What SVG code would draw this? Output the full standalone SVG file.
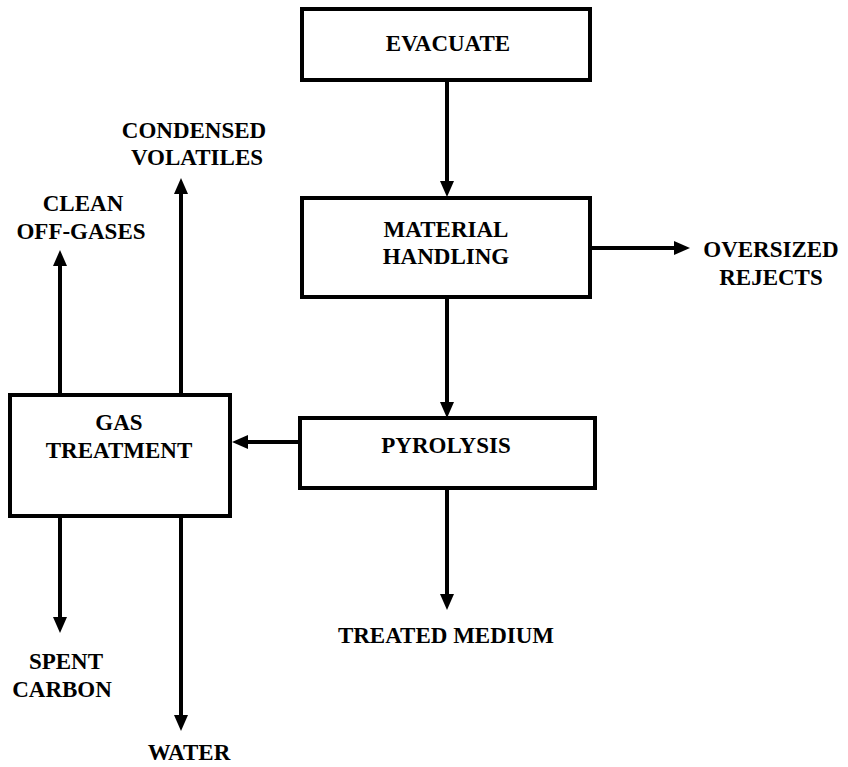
<svg xmlns="http://www.w3.org/2000/svg" width="848" height="767" viewBox="0 0 848 767">
  <style>
    .box { fill: #fff; stroke: #000; stroke-width: 4; }
    .flow { stroke: #000; stroke-width: 4; fill: none; marker-end: url(#head); }
  </style>
  <defs>
    <!-- filled arrowhead; tip sits 8px beyond the line end -->
    <marker id="head" markerUnits="userSpaceOnUse" markerWidth="18" markerHeight="16" refX="8" refY="7" orient="auto">
      <path d="M0,0 L16,7 L0,14 Z" fill="#000"/>
    </marker>
  </defs>

  <rect width="848" height="767" fill="#fff"/>

  <g id="connectors">
    <line class="flow" x1="447" y1="80" x2="447" y2="189"/>
    <line class="flow" x1="590" y1="248" x2="682" y2="248"/>
    <line class="flow" x1="447" y1="297" x2="447" y2="410"/>
    <line class="flow" x1="300" y1="442" x2="240" y2="442"/>
    <line class="flow" x1="447" y1="488" x2="447" y2="602"/>
    <line class="flow" x1="60" y1="395" x2="60" y2="258"/>
    <line class="flow" x1="181" y1="395" x2="181" y2="186"/>
    <line class="flow" x1="60" y1="517" x2="60" y2="625"/>
    <line class="flow" x1="181" y1="517" x2="181" y2="723"/>
  </g>

  <g font-family="Liberation Serif, serif" font-weight="bold" font-size="23" text-anchor="middle" fill="#000">
    <g id="evacuate">
      <rect class="box" x="302" y="9" width="288" height="71"/>
      <text x="448" y="51">EVACUATE</text>
    </g>

    <g id="material-handling">
      <rect class="box" x="302" y="198" width="288" height="99"/>
      <text x="446" y="237">MATERIAL</text>
      <text x="446" y="264">HANDLING</text>
    </g>

    <g id="pyrolysis">
      <rect class="box" x="300" y="418" width="295" height="70"/>
      <text x="446" y="453">PYROLYSIS</text>
    </g>

    <g id="gas-treatment">
      <rect class="box" x="10" y="395" width="220" height="121"/>
      <text x="119" y="430">GAS</text>
      <text x="119" y="458">TREATMENT</text>
    </g>

    <g id="oversized-rejects">
      <text x="771" y="257">OVERSIZED</text>
      <text x="771" y="285">REJECTS</text>
    </g>

    <g id="treated-medium">
      <text x="446" y="643">TREATED MEDIUM</text>
    </g>

    <g id="clean-off-gases">
      <text x="83" y="211">CLEAN</text>
      <text x="81" y="239">OFF-GASES</text>
    </g>

    <g id="condensed-volatiles">
      <text x="194" y="138">CONDENSED</text>
      <text x="197" y="165">VOLATILES</text>
    </g>

    <g id="spent-carbon">
      <text x="66" y="669">SPENT</text>
      <text x="62" y="697">CARBON</text>
    </g>

    <g id="water">
      <text x="189" y="760">WATER</text>
    </g>
  </g>
</svg>
